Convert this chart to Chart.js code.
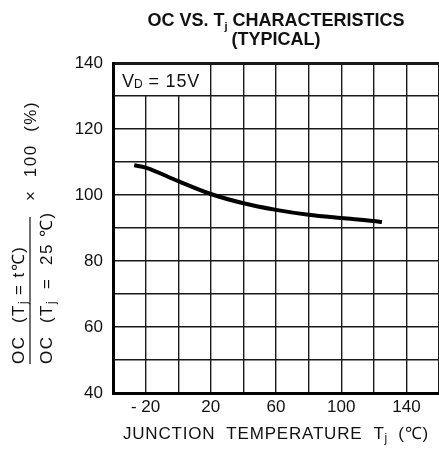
<!DOCTYPE html>
<html>
<head>
<meta charset="utf-8">
<script src="https://cdn.jsdelivr.net/npm/chart.js@4.4.1/dist/chart.umd.min.js"></script>
<style>
  html, body { margin: 0; padding: 0; background: #fff; }
  #wrap { width: 439px; height: 457px; overflow: hidden; }
  canvas { display: block; }
</style>
</head>
<body>
<div id="wrap"><canvas id="ocChart" width="443" height="457" style="width:443px;height:457px"></canvas></div>
<script>
// OC ratio vs junction temperature
var temps   = [-27, -20, 0, 20, 40, 60, 80, 100, 120, 125];
var ocRatio = [109, 108.3, 104.2, 100.3, 97.5, 95.5, 94.0, 93.0, 92.1, 91.8];

var xTickLabels = [-20, 20, 60, 100, 140];
var yTickLabels = [40, 60, 80, 100, 120, 140];

var FONT = '"Liberation Sans", Arial, Helvetica, sans-serif';
var INK = '#111';

// draw a line of text made of runs with their own font / offset (for subscripts)
function drawRuns(ctx, x, y, runs, align) {
  var total = 0;
  runs.forEach(function (r) {
    ctx.font = r.font;
    ctx.letterSpacing = (r.ls || 0) + 'px';
    r.w = ctx.measureText(r.t).width;
    total += r.w;
  });
  var cx = align === 'center' ? x - total / 2 : x;
  ctx.textAlign = 'left';
  ctx.textBaseline = 'alphabetic';
  runs.forEach(function (r) {
    ctx.font = r.font;
    ctx.letterSpacing = (r.ls || 0) + 'px';
    ctx.fillText(r.t, cx, y + (r.dy || 0));
    cx += r.w;
  });
  ctx.letterSpacing = '0px';
}

function f(size, bold) {
  return (bold ? 'bold ' : '') + size + 'px ' + FONT;
}

var labelsPlugin = {
  id: 'ocLabels',
  beforeDatasetsDraw: function (chart) {
    // white note box in the upper left cells
    var ctx = chart.ctx, xs = chart.scales.x, ys = chart.scales.y;
    var l = chart.chartArea.left, t = chart.chartArea.top;
    var r = xs.getPixelForValue(20), b = ys.getPixelForValue(130);
    ctx.save();
    ctx.fillStyle = '#fff';
    ctx.fillRect(l + 2, t + 2, r - l - 3, b - t - 3);
    ctx.fillStyle = INK;
    drawRuns(ctx, l + 9, t + 24, [
      { t: 'V', font: f(18) },
      { t: 'D', font: f(12), dy: 1 },
      { t: ' = 15V', font: f(18), ls: 0.8 }
    ], 'left');
    ctx.restore();
  },
  afterDraw: function (chart) {
    var ctx = chart.ctx;
    var mid = (chart.chartArea.left + chart.chartArea.right) / 2;
    ctx.save();
    ctx.fillStyle = INK;

    // title
    drawRuns(ctx, mid, 26, [
      { t: 'OC VS. T', font: f(18, true) },
      { t: 'j', font: f(11, true), dy: 4 },
      { t: ' CHARACTERISTICS', font: f(18, true) }
    ], 'center');
    drawRuns(ctx, mid, 45, [{ t: '(TYPICAL)', font: f(18, true) }], 'center');

    // x axis title
    drawRuns(ctx, mid, 439, [
      { t: 'JUNCTION  TEMPERATURE  T', font: f(17), ls: 0.8 },
      { t: 'j', font: f(12), dy: 3 },
      { t: '  (℃)', font: f(17), ls: 0.8 }
    ], 'center');

    // y axis title: fraction x 100 (%)
    ctx.translate(30, 364);
    ctx.rotate(-Math.PI / 2);
    ctx.strokeStyle = INK;
    ctx.lineWidth = 1.2;
    ctx.beginPath();
    ctx.moveTo(0, 0);
    ctx.lineTo(147, 0);
    ctx.stroke();
    drawRuns(ctx, 0, -6, [
      { t: 'OC  (T', font: f(17), ls: 1.5 },
      { t: 'j', font: f(12), dy: 3 },
      { t: ' = t℃)', font: f(17), ls: 1.5 }
    ], 'left');
    drawRuns(ctx, 0, 22, [
      { t: 'OC  (T', font: f(17), ls: 1.5 },
      { t: 'j', font: f(12), dy: 3 },
      { t: '  =  25 ℃)', font: f(17), ls: 1.5 }
    ], 'left');
    drawRuns(ctx, 163, 6, [{ t: '×  100  (%)', font: f(17), ls: 1.5 }], 'left');
    ctx.restore();
  }
};

var points = temps.map(function (t, i) { return { x: t, y: ocRatio[i] }; });

new Chart(document.getElementById('ocChart'), {
  type: 'line',
  data: {
    datasets: [{
      data: points,
      borderColor: '#000',
      borderWidth: 4,
      pointRadius: 0,
      fill: false,
      cubicInterpolationMode: 'monotone'
    }]
  },
  options: {
    responsive: false,
    animation: false,
    layout: { padding: { top: 63, bottom: 34, left: 0, right: 1 } },
    plugins: { legend: { display: false }, tooltip: { enabled: false } },
    scales: {
      x: {
        type: 'linear',
        min: -40,
        max: 160,
        afterFit: function (s) { s.height = 30; },
        ticks: {
          stepSize: 20,
          autoSkip: false,
          maxRotation: 0,
          padding: 4,
          color: INK,
          font: { family: FONT, size: 17 },
          callback: function (v) {
            if (xTickLabels.indexOf(v) < 0) return '';
            return v < 0 ? '- ' + Math.abs(v) : String(v);
          }
        },
        grid: { color: '#1a1a1a', lineWidth: 1.4, drawTicks: false },
        border: { color: '#000', width: 3 }
      },
      y: {
        min: 40,
        max: 140,
        afterFit: function (s) { s.width = 113; },
        ticks: {
          stepSize: 10,
          autoSkip: false,
          padding: 10,
          color: INK,
          font: { family: FONT, size: 17 },
          callback: function (v) {
            return yTickLabels.indexOf(v) >= 0 ? String(v) : '';
          }
        },
        grid: {
          color: '#1a1a1a',
          lineWidth: function (c) { return c.tick && c.tick.value === 140 ? 3 : 1.4; },
          drawTicks: false
        },
        border: { color: '#000', width: 3 }
      }
    }
  },
  plugins: [labelsPlugin]
});
</script>
</body>
</html>
